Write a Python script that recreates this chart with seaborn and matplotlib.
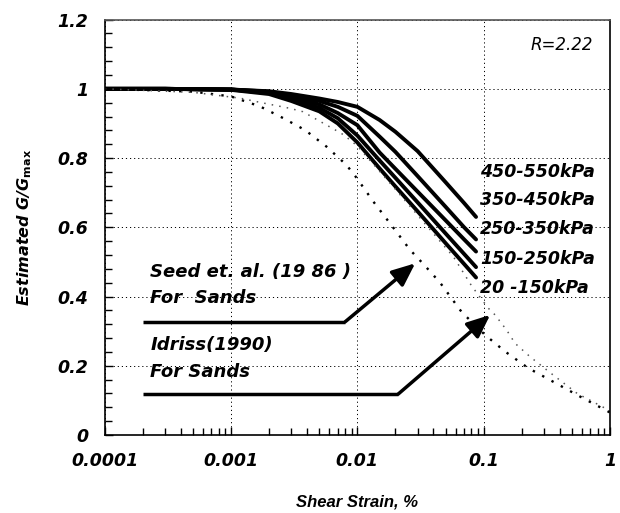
import numpy as np
import pandas as pd
import matplotlib
matplotlib.use("Agg")
import matplotlib.pyplot as plt
import seaborn as sns
from matplotlib.ticker import FixedLocator, NullFormatter, MultipleLocator

# ---------------- data ----------------
strain = [0.0001, 0.0003, 0.001, 0.002, 0.003, 0.005, 0.007, 0.01, 0.015,
          0.02, 0.03, 0.05, 0.07, 0.087]
g_20_150 = [1.0, 1.0, 0.997, 0.985, 0.965, 0.935, 0.90, 0.845, 0.77,
            0.718, 0.646, 0.554, 0.494, 0.455]
g_150_250 = [1.0, 1.0, 0.998, 0.988, 0.97, 0.945, 0.915, 0.865, 0.793,
             0.743, 0.672, 0.582, 0.523, 0.485]
g_250_350 = [1.0, 1.0, 0.998, 0.99, 0.975, 0.955, 0.93, 0.895, 0.816,
             0.769, 0.703, 0.62, 0.565, 0.53]
g_350_450 = [1.0, 1.0, 0.998, 0.992, 0.98, 0.965, 0.948, 0.922, 0.862,
             0.818, 0.748, 0.659, 0.60, 0.565]
g_450_550 = [1.0, 1.0, 0.998, 0.993, 0.985, 0.972, 0.962, 0.948, 0.91,
             0.876, 0.82, 0.73, 0.67, 0.63]
pressure_labels = ["20 -150kPa", "150-250kPa", "250-350kPa", "350-450kPa", "450-550kPa"]

seed_strain = [0.0001, 0.0005, 0.001, 0.0017, 0.0026, 0.00385, 0.0057, 0.0082,
               0.0099, 0.0134, 0.0199, 0.0261, 0.0333, 0.0452, 0.067, 0.1026,
               0.148, 0.226, 0.316, 0.58, 1.0]
seed_g = [1.0, 0.992, 0.978, 0.949, 0.915, 0.881, 0.833, 0.78, 0.742, 0.674,
          0.592, 0.535, 0.494, 0.44, 0.355, 0.289, 0.241, 0.193, 0.164, 0.111, 0.065]

idriss_strain = [0.0001, 0.0005, 0.00118, 0.0018, 0.0029, 0.0037, 0.0067, 0.0078,
                 0.01, 0.02, 0.0466, 0.0576, 0.0805, 0.109, 0.123, 0.152, 0.177,
                 0.233, 0.35, 0.55, 1.0]
idriss_g = [1.0, 0.99, 0.973, 0.959, 0.944, 0.934, 0.881, 0.867, 0.835, 0.71,
            0.554, 0.515, 0.43, 0.366, 0.347, 0.303, 0.265, 0.226, 0.175, 0.12, 0.07]

x_ticks = [0.0001, 0.001, 0.01, 0.1, 1]
x_ticklabels = ["0.0001", "0.001", "0.01", "0.1", "1"]
y_ticks = [0, 0.2, 0.4, 0.6, 0.8, 1.0, 1.2]
y_ticklabels = ["0", "0.2", "0.4", "0.6", "0.8", "1", "1.2"]

# ---------------- figure ----------------
sns.set_style("white")
plt.rcParams['font.family'] = ['DejaVu Sans']
plt.rcParams['mathtext.fontset'] = 'dejavusans'
plt.rcParams['text.color'] = 'black'
plt.rcParams['axes.labelcolor'] = 'black'
plt.rcParams['xtick.color'] = 'black'
plt.rcParams['ytick.color'] = 'black'

fig = plt.figure(figsize=(6.2, 5.13), dpi=100)
ax = fig.add_axes([0.1689, 0.152, 0.815, 0.8098])

curves = [g_20_150, g_150_250, g_250_350, g_350_450, g_450_550]
df = pd.concat([pd.DataFrame({"strain": strain, "G": g, "group": lab})
                for g, lab in zip(curves, pressure_labels)], ignore_index=True)
sns.lineplot(data=df, x="strain", y="G", hue="group",
             palette=["black"] * 5, linewidth=2.8, legend=False, ax=ax,
             estimator=None, sort=False)

df_seed = pd.DataFrame({"strain": seed_strain, "G": seed_g})
df_idr = pd.DataFrame({"strain": idriss_strain, "G": idriss_g})
sns.lineplot(data=df_seed, x="strain", y="G", color="black", linewidth=1.7,
             linestyle=(0, (1, 3.5)), ax=ax, estimator=None, sort=False)
sns.lineplot(data=df_idr, x="strain", y="G", color="#555555", linewidth=1.1,
             linestyle=(0, (1, 4)), ax=ax, estimator=None, sort=False)

ax.set_xscale("log")
ax.set_xlim(0.0001, 1)
ax.set_ylim(0, 1.2)

ax.xaxis.set_major_locator(FixedLocator(x_ticks))
ax.set_xticklabels(x_ticklabels)
ax.xaxis.set_minor_locator(FixedLocator(
    [m * 10.0 ** e for e in range(-4, 0) for m in range(2, 10)]))
ax.xaxis.set_minor_formatter(NullFormatter())
ax.set_yticks(y_ticks)
ax.set_yticklabels(y_ticklabels)
ax.yaxis.set_minor_locator(MultipleLocator(0.04))

ax.tick_params(axis="both", which="both", direction="in", bottom=True, left=True,
               top=False, right=False, colors="black")
ax.tick_params(axis="both", which="major", length=6, width=1.0, pad=12,
               labelsize=12.5)
ax.tick_params(axis="both", which="minor", length=5, width=1.0)
for lab in ax.get_xticklabels() + ax.get_yticklabels():
    lab.set_fontweight("bold")
    lab.set_fontstyle("italic")

ax.grid(True, which="major", linestyle=(0, (1.2, 3)), color="black", linewidth=0.7)
for s in ax.spines.values():
    s.set_color("black")
    s.set_linewidth(1.2)
ax.spines["top"].set_color("#555555")

ax.set_xlabel("Shear Strain, %", fontsize=12, fontweight="bold", fontstyle="italic",
              family=["Liberation Sans", "DejaVu Sans"], labelpad=18, color="black")
ax.set_ylabel(r"Estimated G/G$_{\mathbf{max}}$", fontsize=11.5, fontweight="bold",
              fontstyle="italic", labelpad=17, color="black")

# pressure labels
label_y = [0.425, 0.509, 0.595, 0.679, 0.760]
for lab, yv in zip(pressure_labels, label_y):
    ax.text(0.094, yv, lab, fontsize=12.5, fontweight="bold", fontstyle="italic",
            va="center", ha="left", color="black")

ax.text(0.233, 1.127, "R=2.22", fontsize=12, fontstyle="italic", va="center",
        ha="left", color="black")

# annotations
tfont = dict(fontsize=13, fontweight="bold", fontstyle="italic", ha="left",
             va="center", color="black")
ax.text(0.000229, 0.471, "Seed et. al. (19 86 )", **tfont)
ax.text(0.000229, 0.396, "For  Sands", **tfont)
ax.text(0.000229, 0.26, "Idriss(1990)", **tfont)
ax.text(0.000229, 0.182, "For Sands", **tfont)

ax.plot([0.0002, 0.008], [0.327, 0.327], color="black", linewidth=2.5,
        solid_capstyle="butt")
ax.annotate("", xy=(0.0287, 0.496), xytext=(0.008, 0.327),
            arrowprops=dict(arrowstyle="-|>,head_length=1.4,head_width=0.6",
                            color="black", linewidth=2.5, shrinkA=0, shrinkB=0))
ax.plot([0.0002, 0.021], [0.118, 0.118], color="black", linewidth=2.5,
        solid_capstyle="butt")
ax.annotate("", xy=(0.1125, 0.347), xytext=(0.021, 0.118),
            arrowprops=dict(arrowstyle="-|>,head_length=1.4,head_width=0.6",
                            color="black", linewidth=2.5, shrinkA=0, shrinkB=0))

fig.savefig("out.png", dpi=100)
